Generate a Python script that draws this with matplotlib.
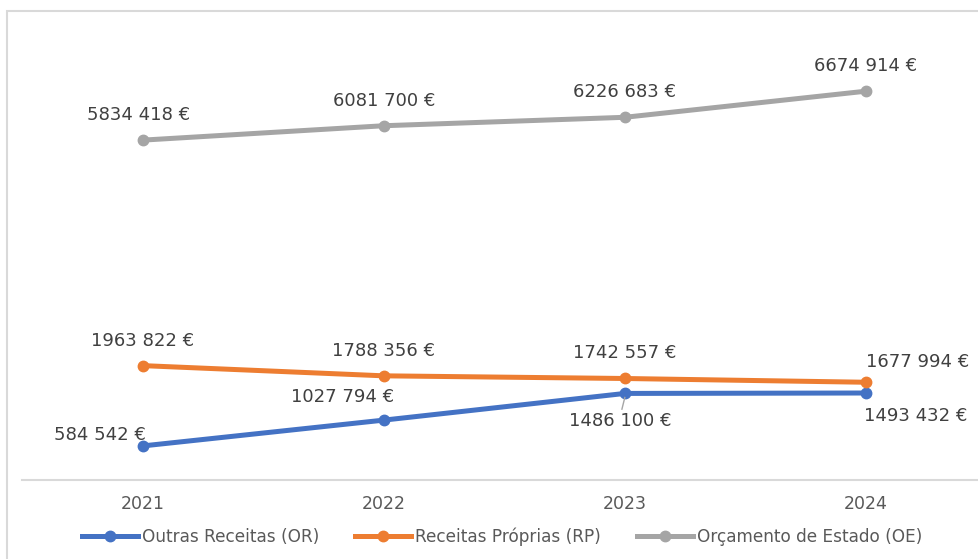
import matplotlib.pyplot as plt
from matplotlib.patches import Rectangle

years = ['2021', '2022', '2023', '2024']
outras = [584542, 1027794, 1486100, 1493432]
proprias = [1963822, 1788356, 1742557, 1677994]
orcamento = [5834418, 6081700, 6226683, 6674914]

W, H = 979, 559
fig = plt.figure(figsize=(W / 100, H / 100), dpi=100)

# chart area border (Excel style), right and bottom edges fall outside the picture
fig.patches.append(Rectangle((7.5 / W, -0.05), 1.1, 1.05 - 10.5 / H, transform=fig.transFigure,
                             fill=False, edgecolor='#d9d9d9', linewidth=1.5))

ax = fig.add_axes([22 / W, (H - 480) / H, (979 - 22) / W, 466 / H])
x = list(range(len(years)))

def fmt(v):
    return f"{v // 1000} {v % 1000:03d} €"

l1, = ax.plot(x, outras, color='#4472C4', lw=3.6, marker='o', ms=7.5, label='Outras Receitas (OR)')
l2, = ax.plot(x, proprias, color='#ED7D31', lw=3.6, marker='o', ms=7.5, label='Receitas Próprias (RP)')
l3, = ax.plot(x, orcamento, color='#A5A5A5', lw=3.6, marker='o', ms=7.5, label='Orçamento de Estado (OE)')

ax.set_xlim(-0.5, (979 - 143) / 241)
ax.set_ylim(0, 8000000)
for s in ['top', 'right', 'left']:
    ax.spines[s].set_visible(False)
ax.spines['bottom'].set_color('#d9d9d9')
ax.spines['bottom'].set_linewidth(1.5)
ax.set_yticks([])
ax.set_xticks(x)
ax.set_xticklabels(years, fontsize=12.5, color='#595959')
ax.tick_params(axis='x', length=0, pad=11)

tc = '#404040'
fs = 13
# Orcamento de Estado labels - above
for i, v in enumerate(orcamento):
    ax.annotate(fmt(v), (i, v), xytext=(-4 if i == 0 else 0, 25), textcoords='offset pixels',
                ha='center', va='center', fontsize=fs, color=tc)
# Receitas Proprias labels
for i, v in enumerate(proprias):
    if i == 3:
        ax.annotate(fmt(v), (i, v), xytext=(52, 20), textcoords='offset pixels',
                    ha='center', va='center', fontsize=fs, color=tc)
    else:
        ax.annotate(fmt(v), (i, v), xytext=(0, 25), textcoords='offset pixels',
                    ha='center', va='center', fontsize=fs, color=tc)
# Outras Receitas labels
ax.annotate(fmt(outras[0]), (0, outras[0]), xytext=(-43, 11), textcoords='offset pixels',
            ha='center', va='center', fontsize=fs, color=tc)
ax.annotate(fmt(outras[1]), (1, outras[1]), xytext=(-41, 23), textcoords='offset pixels',
            ha='center', va='center', fontsize=fs, color=tc)
ax.annotate(fmt(outras[2]), (2, outras[2]), xytext=(-5, -28), textcoords='offset pixels',
            ha='center', va='center', fontsize=fs, color=tc)
ax.plot([2, 1.988], [outras[2] - 70000, outras[2] - 270000], color='#A5A5A5', lw=1)
ax.annotate(fmt(outras[3]), (3, outras[3]), xytext=(50, -23), textcoords='offset pixels',
            ha='center', va='center', fontsize=fs, color=tc)

fig.legend(handles=[l1, l2, l3], loc='center', bbox_to_anchor=(0.513, 1 - 537 / H), ncol=3,
           frameon=False, fontsize=12.2, handlelength=3.3, handletextpad=0.25, columnspacing=2.1,
           labelcolor='#595959')

fig.savefig('out.png', dpi=100)
